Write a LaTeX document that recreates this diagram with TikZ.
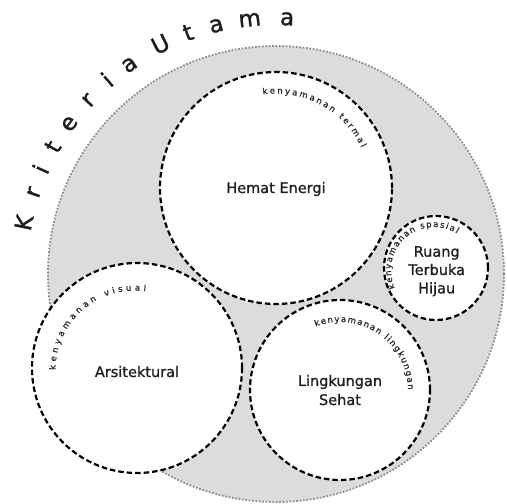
\documentclass[tikz,border=0pt]{standalone}
\usepackage{fontspec}
\setmainfont{DejaVu Sans}
\newfontfamily\mainfnt[FakeBold=1.0]{DejaVu Sans}
\newfontfamily\titlefnt[FakeBold=1.4]{DejaVu Sans}
\newfontfamily\subfnt[FakeBold=0.8]{DejaVu Sans}
\usetikzlibrary{calc}
\definecolor{bggrey}{HTML}{DCDCDC}
\definecolor{dotgrey}{HTML}{8C8C8C}
\definecolor{ink}{HTML}{1E1E1E}
\definecolor{lblink}{HTML}{2A2A2A}
\def\subpt{8.5}
\newcommand\subsize{\subfnt\fontsize{8.5}{10}\selectfont}
% place characters one by one along a circle (clockwise), with extra letter spacing
% #1 centre, #2 baseline radius, #3 angle of first character, #4 letter spacing (pt),
% #5 macro holding list char/advance(em), #6 name prefix
\newcommand\arcchars[6]{%
  \pgfmathsetmacro\tmpc{-0.579*\subpt/2}%
  \xdef\cumlen{\tmpc}%
  \foreach \ch/\w [count=\k] in #5 {%
    \pgfmathsetmacro\ang{#3-(\cumlen+\w*\subpt/2)/#2*57.29578}%
    \node[sublbl, rotate=\ang-90] (#6\k) at ($(#1)+(\ang:#2)$) {\ch};
    \pgfmathsetmacro\tmpc{\cumlen+\w*\subpt+#4}%
    \xdef\cumlen{\tmpc}%
  }%
}
\def\kenyamanan{k/.579,e/.615,n/.634,y/.592,a/.613,m/.974,a/.613,n/.634,a/.613,n/.634,{}/.318}
\begin{document}
\begin{tikzpicture}[x=1pt,y=1pt,
  outer/.style={circle, inner sep=0pt, fill=bggrey, draw=dotgrey, line width=1.8pt, dash pattern=on 1.7pt off 1.7pt},
  crit/.style={circle, inner sep=0pt, fill=white, draw=black, line width=2.2pt, dash pattern=on 5.5pt off 3pt},
  mainlbl/.style={font=\mainfnt\fontsize{14.5}{17}\selectfont, text=ink, inner sep=0pt, anchor=base},
  bigletter/.style={font=\titlefnt\fontsize{23}{27}\selectfont, text=ink, inner sep=0pt, anchor=base},
  sublbl/.style={font=\subsize, text=lblink, inner sep=0pt, anchor=base},
]
\useasboundingbox (0,0) rectangle (507,504);

% main grey circle
\node[outer, minimum size=456pt] (main) at (276,230) {};

% criterion circles
\node[crit, minimum size=232pt] (hemat) at (276,316) {};
\node[crit, minimum size=104pt] (ruang) at (436,236) {};
\node[crit, minimum size=210pt] (arsi) at (137,136) {};
\node[crit, minimum size=180pt] (ling) at (340,114) {};

% main labels
\node[mainlbl] (hematlbl) at (276,311) {Hemat Energi};
\node[mainlbl] (arsilbl) at (137,127) {Arsitektural};
\node[mainlbl] (linglbla) at (340,118) {Lingkungan};
\node[mainlbl] (linglblb) at (340,99) {Sehat};
\node[mainlbl] (ruanglbla) at (436.7,247.3) {Ruang};
\node[mainlbl] (ruanglblb) at (436.7,229) {Terbuka};
\node[mainlbl] (ruanglblc) at (436.7,210.7) {Hijau};

% curved sub labels
\coordinate (termalc) at (hemat.center);
\coordinate (spasialc) at ($(ruang.center)+(-2,-2)$);
\coordinate (visualc) at ($(arsi.center)+(-2,-2)$);
\coordinate (lingc) at (ling.center);
\edef\listtermal{\kenyamanan,t/.392,e/.615,r/.411,m/.974,a/.613,l/.278}
\edef\listspasial{\kenyamanan,s/.521,p/.635,a/.613,s/.521,i/.278,a/.613,l/.278}
\edef\listvisual{\kenyamanan,v/.592,i/.278,s/.521,u/.634,a/.613,l/.278}
\edef\listling{\kenyamanan,l/.278,i/.278,n/.634,g/.635,k/.579,u/.634,n/.634,g/.635,a/.613,n/.634}
\arcchars{termalc}{94.5}{96.5}{2.13}{\listtermal}{termal}
\arcchars{spasialc}{43}{201.5}{1.35}{\listspasial}{spasial}
\arcchars{visualc}{79.5}{178.2}{3.3}{\listvisual}{visual}
\arcchars{lingc}{68}{109}{1.32}{\listling}{lingk}

% title along the main circle
\foreach \ch/\ang [count=\k] in {K/168.5, r/161.4, i/156, t/150.3, e/144, r/137.2, i/131, a/125, U/116.7, t/110, a/103.5, m/95.9, a/87.5}
  \node[bigletter, rotate=\ang-90] (kr\k) at ($(main.center)+(\ang:249)$) {\ch};
\end{tikzpicture}
\end{document}
